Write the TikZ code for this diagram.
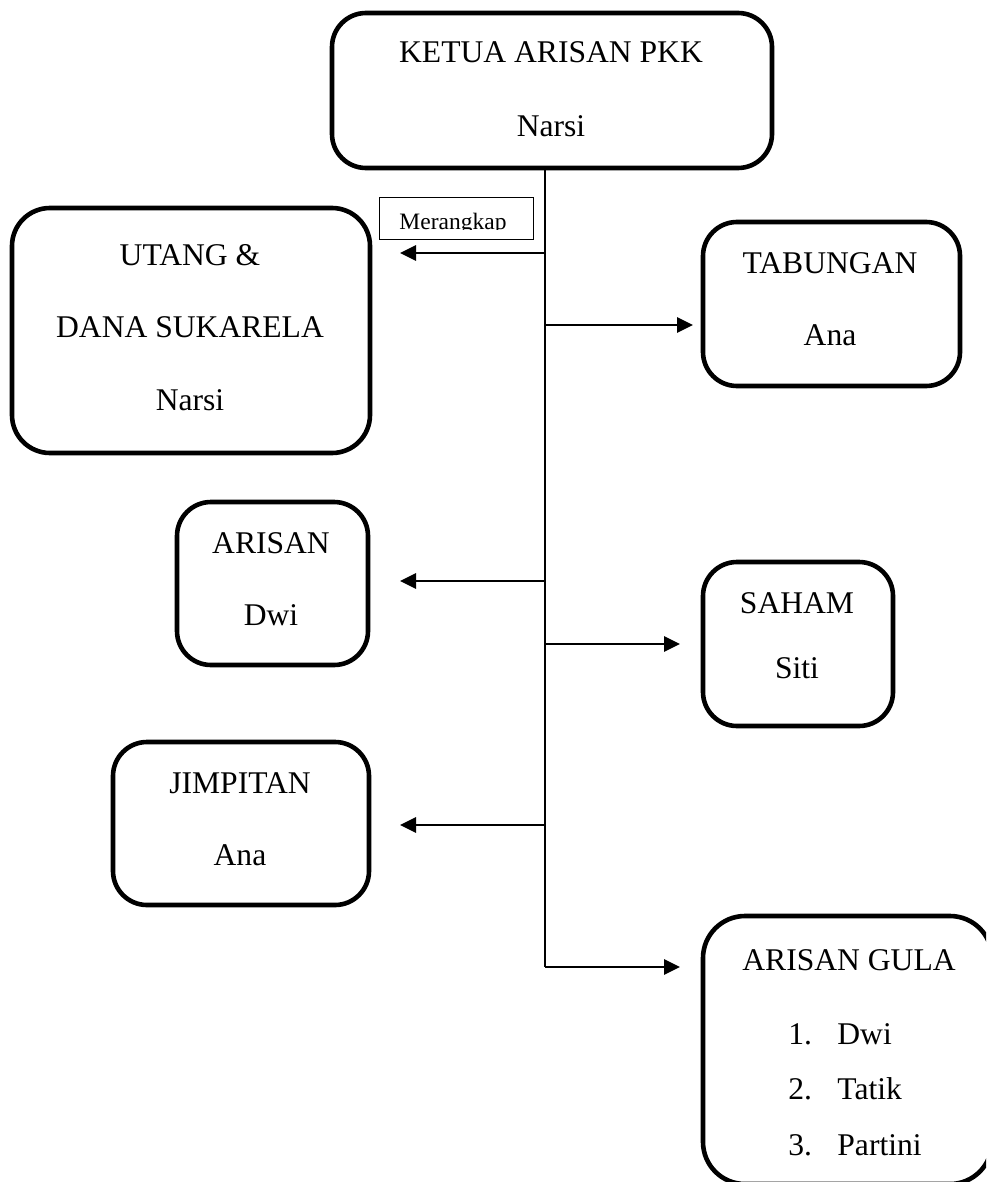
\documentclass[tikz,border=0pt]{standalone}
\usepackage{fontspec}
\setmainfont{Liberation Serif}
\usetikzlibrary{arrows.meta}
\begin{document}
\begin{tikzpicture}[x=0.5pt,y=-0.5pt,
  rbox/.style={draw, line width=2.3pt, rounded corners=17pt, inner sep=0pt},
  txt/.style={anchor=base, inner sep=0pt, font=\fontsize{15.8pt}{19pt}\selectfont},
  ltxt/.style={anchor=base west, inner sep=0pt, font=\fontsize{15.8pt}{19pt}\selectfont},
  trunkline/.style={line width=1pt},
  arr/.style={line width=1.4pt, -{Triangle[length=8pt,width=7.5pt]}},
  mbox/.style={draw, line width=0.5pt, inner sep=0pt}]
\useasboundingbox (0,0) rectangle (986,1182);
\clip (0,0) rectangle (986,1182);
\fill[white] (0,0) rectangle (986,1182);

% boxes
\node[rbox, minimum width=220pt, minimum height=77.5pt] (ketua) at (552,90.5) {};
\node[rbox, minimum width=179pt, minimum height=122.5pt, rounded corners=19pt] (utang) at (191,330.5) {};
\node[rbox, minimum width=128.5pt, minimum height=82pt] (tabungan) at (831.5,304) {};
\node[rbox, minimum width=95.5pt, minimum height=81.5pt] (arisan) at (272.5,583.5) {};
\node[rbox, minimum width=95pt, minimum height=82pt] (saham) at (798,644) {};
\node[rbox, minimum width=128pt, minimum height=81.5pt] (jimpitan) at (241,823.5) {};
\node[rbox, minimum width=144.5pt, minimum height=134pt, rounded corners=21pt] (gula) at (847.5,1050) {};

% texts
\node[txt] (t1) at (551,63) {KETUA ARISAN PKK};
\node[txt] (t2) at (551,137) {Narsi};
\node[txt] (t3) at (190,265) {UTANG \&};
\node[txt] (t4) at (190,337) {DANA SUKARELA};
\node[txt] (t5) at (190,410) {Narsi};
\node[txt] (t6) at (830,273) {TABUNGAN};
\node[txt] (t7) at (830,345) {Ana};
\node[txt] (t8) at (271,553) {ARISAN};
\node[txt] (t9) at (271,625) {Dwi};
\node[txt] (t10) at (797,613) {SAHAM};
\node[txt] (t11) at (797,678) {Siti};
\node[txt] (t12) at (240,793) {JIMPITAN};
\node[txt] (t13) at (240,865) {Ana};
\node[txt] (t14) at (849,970) {ARISAN GULA};
\node[ltxt] (n1) at (788,1044) {1.};
\node[ltxt] (l1) at (837,1044) {Dwi};
\node[ltxt] (n2) at (788,1099) {2.};
\node[ltxt] (l2) at (837,1099) {Tatik};
\node[ltxt] (n3) at (788,1155) {3.};
\node[ltxt] (l3) at (837,1155) {Partini};

% Merangkap label
\node[mbox, minimum width=77pt, minimum height=21pt] (mer) at (456,219) {};
\begin{scope}
  \clip (380,199) rectangle (532,230);
  \node[anchor=base, inner sep=0pt, font=\fontsize{11.75pt}{14pt}\selectfont] (mertxt) at (453,229) {Merangkap};
\end{scope}

% trunk
\coordinate (tb) at (545,967);
\draw[trunkline] (ketua.south -| tb) -- (tb);

% arrow ends
\coordinate (e1) at (400,253);
\coordinate (e2) at (693,325);
\coordinate (e3) at (400,581);
\coordinate (e4) at (680,644);
\coordinate (e5) at (400,825);
\coordinate (e6) at (680,967);

\draw[arr] (e1 -| tb) -- (e1);
\draw[arr] (e2 -| tb) -- (e2);
\draw[arr] (e3 -| tb) -- (e3);
\draw[arr] (e4 -| tb) -- (e4);
\draw[arr] (e5 -| tb) -- (e5);
\draw[arr] (tb) -- (e6);
\end{tikzpicture}
\end{document}
